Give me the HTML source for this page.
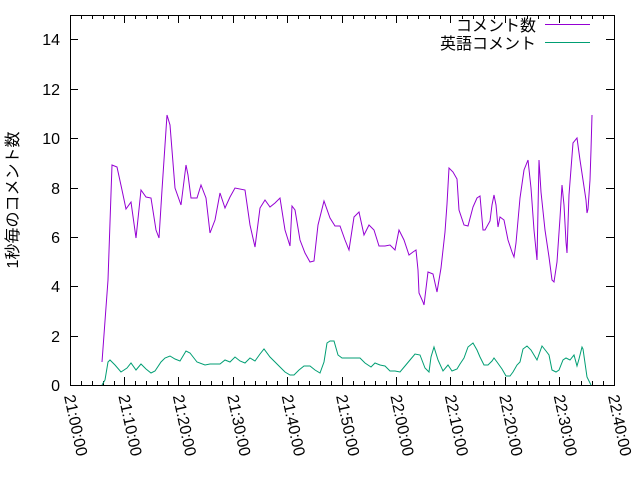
<!DOCTYPE html>
<html><head><meta charset="utf-8"><style>body{margin:0;background:#fff}svg{display:block}text{font-family:"Liberation Sans","Noto Sans CJK JP",sans-serif;font-size:16px;fill:#000}</style></head><body>
<svg width="640" height="480" xmlns="http://www.w3.org/2000/svg">
<g stroke="#000" stroke-width="1" fill="none">
<rect x="70.5" y="15.5" width="544" height="370"/>
<path d="M70 385.5h8M614 385.5h-8M70 336.5h8M614 336.5h-8M70 286.5h8M614 286.5h-8M70 237.5h8M614 237.5h-8M70 188.5h8M614 188.5h-8M70 138.5h8M614 138.5h-8M70 89.5h8M614 89.5h-8M70 39.5h8M614 39.5h-8"/>
<path d="M124.5 385v-8M124.5 15v8M178.5 385v-8M178.5 15v8M233.5 385v-8M233.5 15v8M287.5 385v-8M287.5 15v8M342.5 385v-8M342.5 15v8M396.5 385v-8M396.5 15v8M450.5 385v-8M450.5 15v8M505.5 385v-8M505.5 15v8M559.5 385v-8M559.5 15v8"/>
<path d="M81.5 385v-4M92.5 385v-4M103.5 385v-4M114.5 385v-4M135.5 385v-4M146.5 385v-4M157.5 385v-4M168.5 385v-4M189.5 385v-4M200.5 385v-4M211.5 385v-4M222.5 385v-4M244.5 385v-4M255.5 385v-4M266.5 385v-4M277.5 385v-4M298.5 385v-4M309.5 385v-4M320.5 385v-4M331.5 385v-4M353.5 385v-4M364.5 385v-4M375.5 385v-4M386.5 385v-4M407.5 385v-4M418.5 385v-4M429.5 385v-4M440.5 385v-4M462.5 385v-4M473.5 385v-4M483.5 385v-4M494.5 385v-4M516.5 385v-4M527.5 385v-4M538.5 385v-4M549.5 385v-4M570.5 385v-4M581.5 385v-4M592.5 385v-4M603.5 385v-4"/>
<path d="M81.5 15v4M92.5 15v4M103.5 15v4M114.5 15v4M135.5 15v4M146.5 15v4M157.5 15v4M168.5 15v4M189.5 15v4M200.5 15v4M211.5 15v4M222.5 15v4M244.5 15v4M255.5 15v4M266.5 15v4M277.5 15v4M298.5 15v4M309.5 15v4M320.5 15v4M331.5 15v4M353.5 15v4M364.5 15v4M375.5 15v4M386.5 15v4M407.5 15v4M418.5 15v4M429.5 15v4M440.5 15v4M462.5 15v4M473.5 15v4M483.5 15v4M494.5 15v4M516.5 15v4M527.5 15v4M538.5 15v4M549.5 15v4M570.5 15v4M581.5 15v4M592.5 15v4M603.5 15v4"/>
</g>
<g text-anchor="end">
<text x="60" y="391">0</text><text x="60" y="342">2</text><text x="60" y="292">4</text><text x="60" y="243">6</text><text x="60" y="194">8</text><text x="60" y="144">10</text><text x="60" y="95">12</text><text x="60" y="45">14</text>
</g>
<text transform="translate(18,200) rotate(-90)" text-anchor="middle" font-size="15">1秒毎のコメント数</text>
<text transform="translate(64,396) rotate(78)">21:00:00</text>
<text transform="translate(118.4,396) rotate(78)">21:10:00</text>
<text transform="translate(172.8,396) rotate(78)">21:20:00</text>
<text transform="translate(227.2,396) rotate(78)">21:30:00</text>
<text transform="translate(281.6,396) rotate(78)">21:40:00</text>
<text transform="translate(336,396) rotate(78)">21:50:00</text>
<text transform="translate(390.4,396) rotate(78)">22:00:00</text>
<text transform="translate(444.8,396) rotate(78)">22:10:00</text>
<text transform="translate(499.2,396) rotate(78)">22:20:00</text>
<text transform="translate(553.6,396) rotate(78)">22:30:00</text>
<text transform="translate(608,396) rotate(78)">22:40:00</text>
<text x="536" y="31" text-anchor="end" font-size="15">コメント数</text>
<path d="M545 24.5h45" stroke="#9400d3"/>
<text x="536" y="49" text-anchor="end" font-size="15">英語コメント</text>
<path d="M545 42.5h45" stroke="#009e73"/>
<polyline fill="none" stroke="#9400d3" stroke-width="1" points="102,362 108,280 112,165 117,167 122,190 126,209 131,202 136,238 141,190 146,197 151,198 156,230 159,238 162,190 167,115 170,125 175,188 181,205 186,165 188,175 191,198 197,198 201,185 206,198 210,233 215,220 220,193 225,208 230,197 235,188 245,190 250,225 255,247 260,208 265,200 270,207 275,203 280,198 285,230 290,246 292,206 295,210 300,240 305,253 310,262 314,261 318,225 324,201 330,218 335,226 340,226 345,240 349,250 354,217 359,212 364,235 369,225 374,230 379,246 385,246 390,245 395,250 399,230 404,240 409,255 413,252 416,250 418,270 419,293 423,302 424,305 428,272 433,274 437,292 441,268 445,232 447,204 449,168 453,172 457,179 459,210 464,225 468,226 473,207 477,198 480,196 483,230 485,230 490,221 492,205 494,195 496,205 498,227 500,217 504,220 508,240 512,252 514,257 516,243 520,198 524,170 528,160 531,188 534,230 537,260 539,160 541,192 545,230 549,257 552,280 554,282 557,262 560,218 562,185 564,205 566,242 567,253 569,195 573,143 577,138 580,160 583,180 586,200 587,213 588,209 590,180 591,150 592,115"/>
<polyline fill="none" stroke="#009e73" stroke-width="1" points="102,385 105,380 108,362 110,360 115,365 121,372 127,368 131,363 136,370 141,364 146,369 151,373 155,371 161,362 165,358 170,356 175,359 180,361 186,351 190,353 197,362 205,365 210,364 220,364 225,360 230,362 235,357 240,361 245,363 250,358 255,361 260,354 264,349 270,357 275,362 280,367 285,372 290,375 294,375 299,370 304,366 310,366 315,370 320,373 324,362 327,343 330,341 334,341 338,355 342,358 348,358 355,358 360,358 365,363 371,367 375,363 380,365 385,366 390,371 395,371 400,372 405,366 410,360 415,354 420,355 425,368 429,372 431,357 434,347 438,360 443,371 448,365 452,371 457,369 460,364 464,358 468,347 473,343 477,350 480,357 484,365 488,365 492,361 494,358 497,362 502,369 506,376 510,376 513,372 517,365 520,362 523,349 527,346 531,350 534,355 537,360 542,346 546,351 549,355 552,370 556,372 559,370 563,360 566,358 570,360 574,355 577,366 579,359 582,347 583,349 587,377 591,385"/>
</svg>
</body></html>
